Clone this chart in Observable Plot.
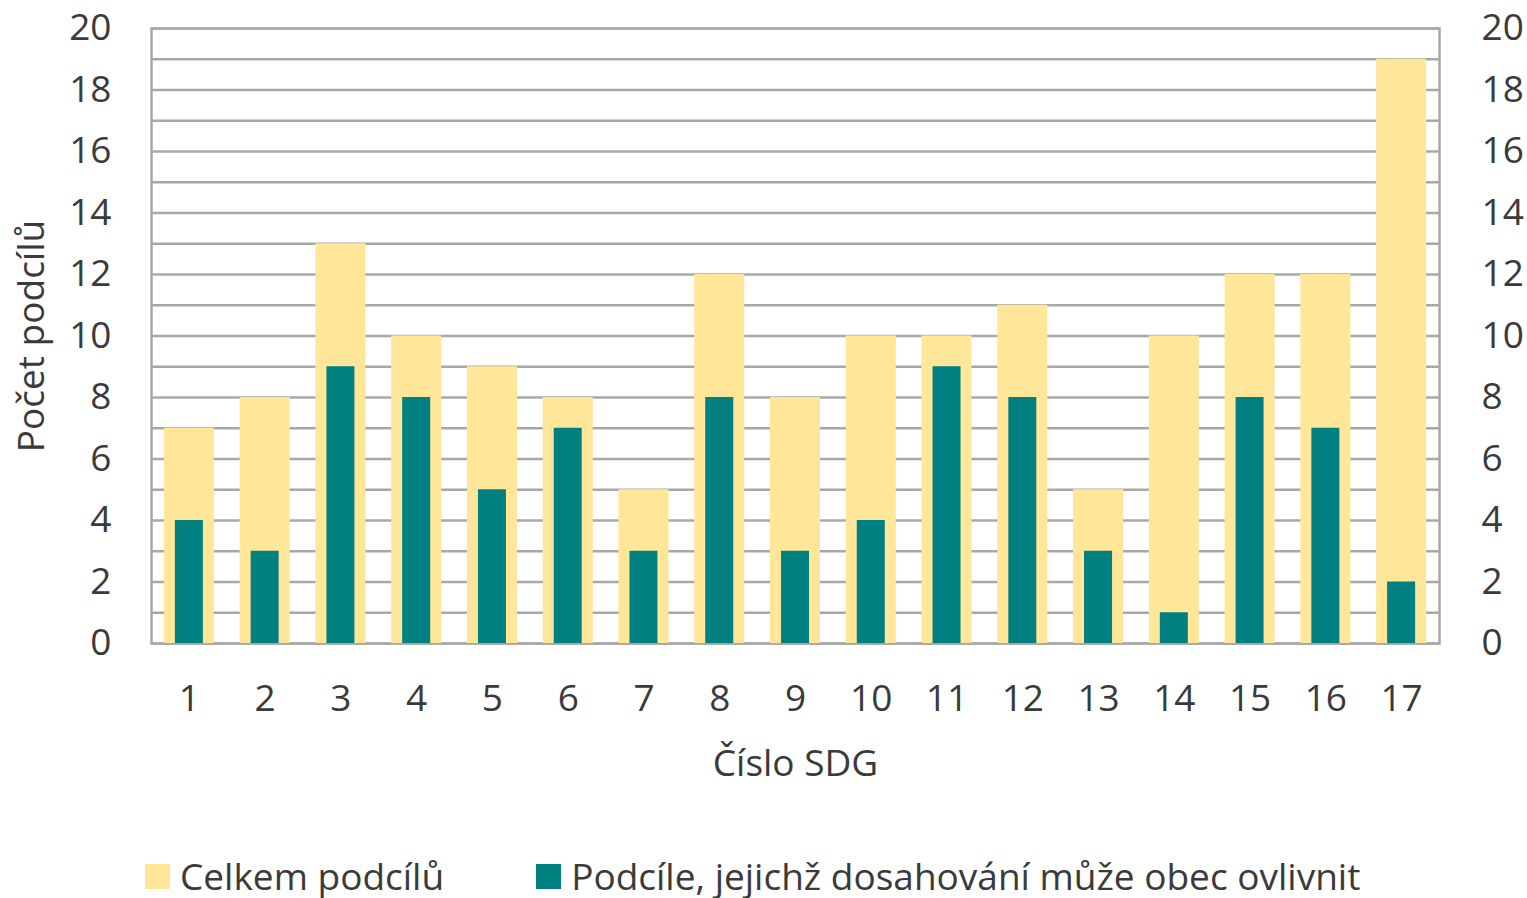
<!DOCTYPE html>
<html>
<head>
<meta charset="utf-8">
<script src="https://cdn.jsdelivr.net/npm/d3@7"></script>
<script src="https://cdn.jsdelivr.net/npm/@observablehq/plot@0.6"></script>
<style>
  html, body { margin: 0; padding: 0; background: #fff; }
  body { width: 1527px; height: 898px; overflow: hidden; font-family: "Open Sans", sans-serif; color: #3a3a3a; }
  #chart { height: 845px; }
  #legend { display: flex; align-items: center; height: 40px; line-height: 40px; padding-left: 145px; font-size: 37px; margin-top: 11px; }
  .item { display: flex; align-items: center; }
  .sw { width: 25px; height: 25px; margin-right: 10px; }
</style>
</head>
<body>
<div id="chart"></div>
<div id="legend"></div>
<script>
const sdg = [1,2,3,4,5,6,7,8,9,10,11,12,13,14,15,16,17];
const celkem = [7,8,13,10,9,8,5,12,8,10,10,11,5,10,12,12,19];
const ovlivnit = [4,3,9,8,5,7,3,8,3,4,9,8,3,1,8,7,2];
const seriesNames = ["Celkem podcílů", "Podcíle, jejichž dosahování může obec ovlivnit"];
const seriesColors = ["#FFE699", "#008080"];
const yTicks = [0,2,4,6,8,10,12,14,16,18,20];
const gridLines = d3.range(0, 21);

const rows = sdg.map((s, i) => ({sdg: s, celkem: celkem[i], ovlivnit: ovlivnit[i]}));

const textColor = "#3a3a3a";
const gridColor = "#a8a8a8";

const chart = Plot.plot({
  width: 1527,
  height: 845,
  marginLeft: 151,
  marginRight: 88,
  marginTop: 28,
  marginBottom: 202,
  style: {fontFamily: "'Open Sans', sans-serif", fontSize: "37px", color: textColor, background: "#fff"},
  x: {type: "band", domain: sdg, paddingInner: 0.34, paddingOuter: 0.17, round: false},
  y: {domain: [0, 20]},
  marks: [
    Plot.ruleY(gridLines, {stroke: gridColor, strokeWidth: 2.5}),
    Plot.frame({stroke: gridColor, strokeWidth: 2.5}),
    Plot.barY(rows, {x: "sdg", y: "celkem", fill: seriesColors[0]}),
    Plot.barY(rows, {x: "sdg", y: "ovlivnit", fill: seriesColors[1], insetLeft: 11, insetRight: 11}),
    Plot.axisY({anchor: "left", ticks: yTicks, tickSize: 0, tickPadding: 40, label: "Počet podcílů", labelAnchor: "center", labelArrow: "none", labelOffset: 134, fill: textColor}),
    Plot.axisY({anchor: "right", ticks: yTicks, tickSize: 0, tickPadding: 42, label: null, fill: textColor}),
    Plot.axisX({anchor: "bottom", tickSize: 0, tickPadding: 41, label: "Číslo SDG", labelAnchor: "center", labelArrow: "none", labelOffset: 132, fill: textColor})
  ]
});
document.getElementById("chart").appendChild(chart);

const legend = document.getElementById("legend");
seriesNames.forEach((name, i) => {
  const it = document.createElement("div");
  it.className = "item";
  if (i > 0) it.style.marginLeft = "92px";
  const sw = document.createElement("div");
  sw.className = "sw";
  sw.style.background = seriesColors[i];
  const t = document.createElement("span");
  t.textContent = name;
  it.appendChild(sw); it.appendChild(t);
  legend.appendChild(it);
});
</script>
</body>
</html>
